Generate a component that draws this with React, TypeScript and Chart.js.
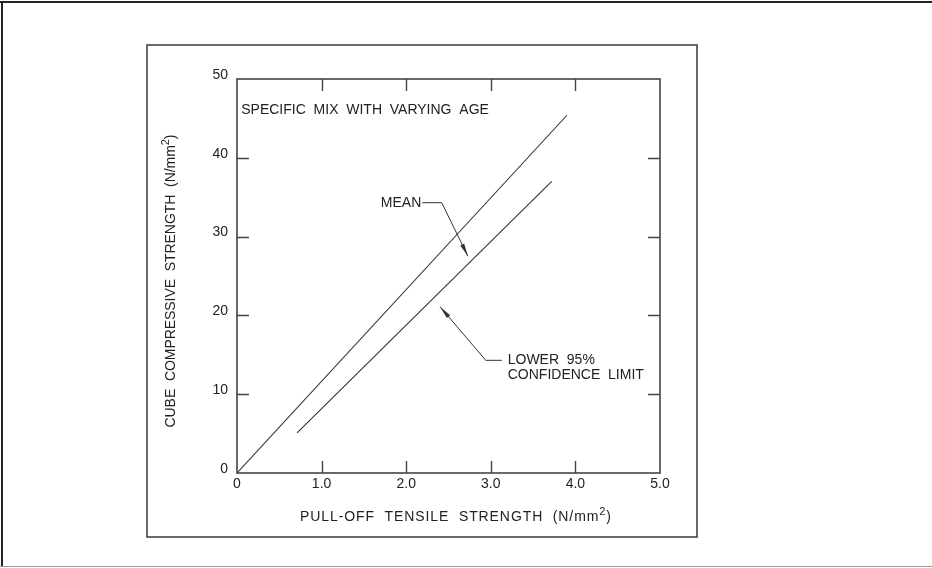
import React, { useEffect, useRef } from 'react';
import { Chart, registerables } from 'chart.js';

Chart.register(...registerables);

// ---- data ----
const xTickValues = [0, 1, 2, 3, 4, 5];
const yTickValues = [0, 10, 20, 30, 40, 50];
const meanX = [0, 3.9];
const meanY = [0, 45.4];
const lowerX = [0.71, 3.72];
const lowerY = [5.1, 37.0];

// ---- annotation text ----
const noteText = 'SPECIFIC  MIX  WITH  VARYING  AGE';
const meanText = 'MEAN';
const lowerText = ['LOWER  95%', 'CONFIDENCE  LIMIT'];
const xTitle = [{ t: 'PULL-OFF  TENSILE  STRENGTH  (N/mm' }, { t: '2', sup: true }, { t: ')' }];
const yTitle = [{ t: 'CUBE  COMPRESSIVE  STRENGTH  (N/mm' }, { t: '2', sup: true }, { t: ')' }];

// annotation anchors in data units
const notePos = { x: 0.05, y: 46.1 };
const meanLabelPos = { x: 1.7, y: 34.3 };
const meanLeader = [[2.19, 34.3], [2.42, 34.3], [2.73, 27.5]];
const lowerLeader = [[3.13, 14.3], [2.94, 14.3], [2.4, 21.1]];
const lowerLabelPos = { x: 3.2, y: [14.3, 12.4] };

const FONT = '"Liberation Sans", Arial, sans-serif';
const INK = '#222';
const LINE = '#333';

type Part = { t: string; sup?: boolean };

function drawParts(ctx: CanvasRenderingContext2D, parts: Part[], x: number, y: number, size: number, align: 'left' | 'center', target?: number) {
  const supSize = Math.round(size * 0.8);
  let w = 0;
  let n = 0;
  for (const p of parts) {
    ctx.font = `${p.sup ? supSize : size}px ${FONT}`;
    for (const ch of p.t) {
      w += ctx.measureText(ch).width;
      n++;
    }
  }
  const ls = target ? (target - w) / Math.max(1, n - 1) : 0;
  const total = w + ls * (n - 1);
  let cx = align === 'center' ? x - total / 2 : x;
  ctx.textBaseline = 'middle';
  ctx.textAlign = 'left';
  ctx.fillStyle = INK;
  for (const p of parts) {
    const s = p.sup ? supSize : size;
    ctx.font = `${s}px ${FONT}`;
    for (const ch of p.t) {
      ctx.fillText(ch, cx, p.sup ? y - size * 0.38 : y);
      cx += ctx.measureText(ch).width + ls;
    }
  }
}

function drawText(ctx: CanvasRenderingContext2D, text: string, x: number, y: number, size = 14) {
  ctx.font = `${size}px ${FONT}`;
  ctx.fillStyle = INK;
  ctx.textAlign = 'left';
  ctx.textBaseline = 'middle';
  ctx.fillText(text, x, y);
}

function drawLeader(ctx: CanvasRenderingContext2D, pts: number[][]) {
  ctx.strokeStyle = LINE;
  ctx.lineWidth = 1;
  ctx.beginPath();
  pts.forEach((p, i) => (i === 0 ? ctx.moveTo(p[0], p[1]) : ctx.lineTo(p[0], p[1])));
  ctx.stroke();
  const tip = pts[pts.length - 1];
  const prev = pts[pts.length - 2];
  const ang = Math.atan2(tip[1] - prev[1], tip[0] - prev[0]);
  const len = 13;
  const hw = 2.2;
  const bx = tip[0] - Math.cos(ang) * len;
  const by = tip[1] - Math.sin(ang) * len;
  ctx.fillStyle = LINE;
  ctx.beginPath();
  ctx.moveTo(tip[0], tip[1]);
  ctx.lineTo(bx + Math.sin(ang) * hw, by - Math.cos(ang) * hw);
  ctx.lineTo(bx - Math.sin(ang) * hw, by + Math.cos(ang) * hw);
  ctx.closePath();
  ctx.fill();
}

const decorPlugin = {
  id: 'decor',
  afterDatasetsDraw(chart: any) {
    const ctx: CanvasRenderingContext2D = chart.ctx;
    const { left, right, top, bottom } = chart.chartArea;
    const xs = chart.scales.x;
    const ys = chart.scales.y;
    const X = (v: number) => xs.getPixelForValue(v);
    const Y = (v: number) => ys.getPixelForValue(v);
    ctx.save();

    // outer page frame
    ctx.fillStyle = '#222';
    ctx.fillRect(0, 1, chart.width, 2);
    ctx.fillRect(1, 1, 2, chart.height - 2);
    ctx.fillStyle = '#999';
    ctx.fillRect(0, chart.height - 2, chart.width, 1);

    // figure frame
    ctx.strokeStyle = '#444';
    ctx.lineWidth = 1.6;
    ctx.strokeRect(left - 90, top - 34, right - left + 127, bottom - top + 98);

    // axes box
    ctx.strokeStyle = '#444';
    ctx.lineWidth = 1.6;
    ctx.strokeRect(left, top, right - left, bottom - top);

    // inward ticks
    const tl = 12;
    ctx.lineWidth = 1.4;
    ctx.beginPath();
    xTickValues.slice(1, -1).forEach((v) => {
      const px = Math.round(X(v)) + 0.5;
      ctx.moveTo(px, bottom);
      ctx.lineTo(px, bottom - tl);
      ctx.moveTo(px, top);
      ctx.lineTo(px, top + tl);
    });
    yTickValues.slice(1, -1).forEach((v) => {
      const py = Math.round(Y(v)) + 0.5;
      ctx.moveTo(left, py);
      ctx.lineTo(left + tl, py);
      ctx.moveTo(right, py);
      ctx.lineTo(right - tl, py);
    });
    ctx.stroke();

    // annotations
    drawText(ctx, noteText, X(notePos.x), Y(notePos.y));
    drawText(ctx, meanText, X(meanLabelPos.x), Y(meanLabelPos.y));
    drawLeader(ctx, meanLeader.map((p) => [X(p[0]), Y(p[1])]));
    drawLeader(ctx, lowerLeader.map((p) => [X(p[0]), Y(p[1])]));
    lowerText.forEach((t, i) => drawText(ctx, t, X(lowerLabelPos.x), Y(lowerLabelPos.y[i])));

    // axis titles
    drawParts(ctx, xTitle, (left + right) / 2 + 7, bottom + 44, 14, 'center', 311);
    ctx.translate(left - 66, (top + bottom) / 2 + 5);
    ctx.rotate(-Math.PI / 2);
    drawParts(ctx, yTitle, 0, 0, 14, 'center', 293);
    ctx.restore();
  },
};

export default function App() {
  const ref = useRef<HTMLCanvasElement | null>(null);
  useEffect(() => {
    if (!ref.current) return;
    const chart = new Chart(ref.current, {
      type: 'scatter',
      data: {
        datasets: [
          {
            label: 'Mean',
            data: meanX.map((x, i) => ({ x, y: meanY[i] })),
            showLine: true,
            borderColor: LINE,
            borderWidth: 1.1,
            pointRadius: 0,
          },
          {
            label: 'Lower 95% confidence limit',
            data: lowerX.map((x, i) => ({ x, y: lowerY[i] })),
            showLine: true,
            borderColor: LINE,
            borderWidth: 1.1,
            pointRadius: 0,
          },
        ],
      },
      options: {
        animation: false,
        responsive: false,
        layout: { padding: { left: 197, top: 79, right: 272, bottom: 55 } },
        plugins: { legend: { display: false }, tooltip: { enabled: false } },
        scales: {
          x: {
            type: 'linear',
            min: 0,
            max: 5,
            afterBuildTicks: (s: any) => {
              s.ticks = xTickValues.map((v) => ({ value: v }));
            },
            afterFit: (s: any) => {
              s.height = 40;
            },
            grid: { display: false, drawTicks: false },
            border: { display: false },
            ticks: {
              color: INK,
              font: { family: FONT, size: 14 },
              padding: 3,
              maxRotation: 0,
              callback: (v: any) => (Number(v) === 0 ? '0' : Number(v).toFixed(1)),
            },
          },
          y: {
            type: 'linear',
            min: 0,
            max: 50,
            afterBuildTicks: (s: any) => {
              s.ticks = yTickValues.map((v) => ({ value: v }));
            },
            afterFit: (s: any) => {
              s.width = 40;
            },
            grid: { display: false, drawTicks: false },
            border: { display: false },
            ticks: {
              color: INK,
              font: { family: FONT, size: 14 },
              padding: 9,
              labelOffset: -4,
              callback: (v: any) => String(v),
            },
          },
        },
      },
      plugins: [decorPlugin],
    });
    return () => chart.destroy();
  }, []);
  return (
    <div style={{ position: 'absolute', left: 0, top: 0, width: 932, height: 568, background: '#fff' }}>
      <canvas ref={ref} width={932} height={568} style={{ display: 'block' }} />
    </div>
  );
}
